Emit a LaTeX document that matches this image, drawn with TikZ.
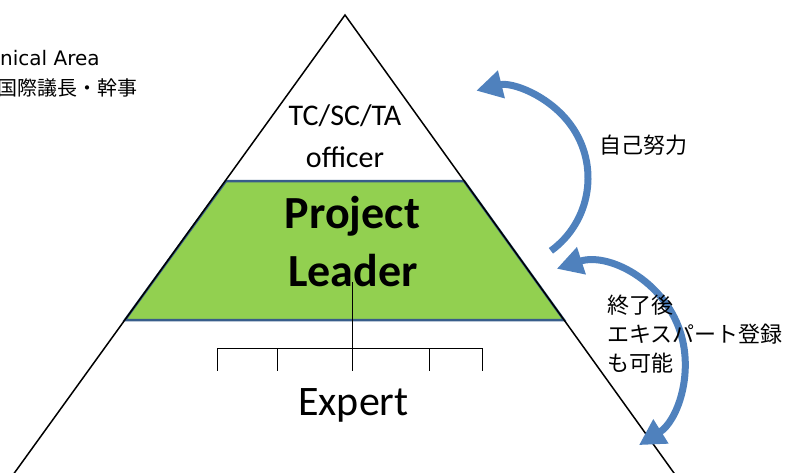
\documentclass[tikz,border=0pt]{standalone}
\usepackage{fontspec}
\setmainfont{Carlito}
\newfontfamily\jpfont{Noto Sans CJK JP}
\newfontfamily\dvfont{DejaVu Sans}
\usetikzlibrary{arrows.meta}
\definecolor{plgreen}{HTML}{92D050}
\definecolor{plblue}{HTML}{385D8A}
\definecolor{arrowblue}{HTML}{4F81BD}
\begin{document}
\begin{tikzpicture}[x=1pt,y=-1pt,
  jptext/.style={font=\jpfont\fontsize{22}{29}\selectfont, inner sep=0pt},
  bigarrow/.style={arrowblue, line width=7pt},
  bighead/.tip={Triangle[width=27pt,length=26pt]},
  tree/.style={line width=1pt}]
\useasboundingbox (0,0) rectangle (787,472);
\clip (0,0) rectangle (787,472);
% Trapeze
\draw [plblue, fill=plgreen, line width=2.5pt] (226,181) -- (464,181) -- (564,320) -- (125,320) -- cycle;
% Pyramide
\coordinate (apex) at (345,15);
\draw [line width=1.5pt] (9.3,480) -- (apex) -- (679,480);
% Textes
\node [font=\fontsize{30}{36}\selectfont, anchor=base] (tcsc) at (345,125) {TC/SC/TA};
\node [font=\fontsize{30}{36}\selectfont, anchor=base] (officer) at (345,167) {officer};
\node [font=\bfseries\fontsize{46}{55}\selectfont, anchor=base] (project) at (352.5,228) {Project};
\node [font=\bfseries\fontsize{46}{55}\selectfont, anchor=base] (leader) at (353,286) {Leader};
\node [font=\fontsize{42}{50}\selectfont, anchor=base] (expert) at (353.5,415) {Expert};
% Arbre
\coordinate (lead) at (352,282);
\coordinate (hub) at (352,348);
\draw [tree] (lead) -- (hub);
\draw [tree] (217,348) -- (482,348);
\foreach \x in {217,277,352,429,482}
  \draw [tree] (\x,348) -- (\x,371);
% Fleches
\coordinate (ctop) at (498,178);
\coordinate (clow) at (587,362);
\draw [bigarrow, -bighead] ([shift={(54:90)}]ctop) arc [start angle=54, end angle=-104, radius=90];
\draw [bigarrow, bighead-bighead] ([shift={(-108:98)}]clow) arc [start angle=-108, end angle=58, radius=98];
\node [jptext] (effort) at (643,145) {自己努力};
\node [jptext, anchor=west, align=left] (later) at (607,334) {終了後\\エキスパート登録\\も可能};
% Haut gauche
\node [font=\dvfont\fontsize{20}{24}\selectfont, anchor=base west, inner sep=0pt] (area) at (0,65) {nical Area};
\node [font=\jpfont\fontsize{20}{24}\selectfont, anchor=west, inner sep=0pt] (chair) at (-3,88) {国際議長・幹事};
\end{tikzpicture}
\end{document}
